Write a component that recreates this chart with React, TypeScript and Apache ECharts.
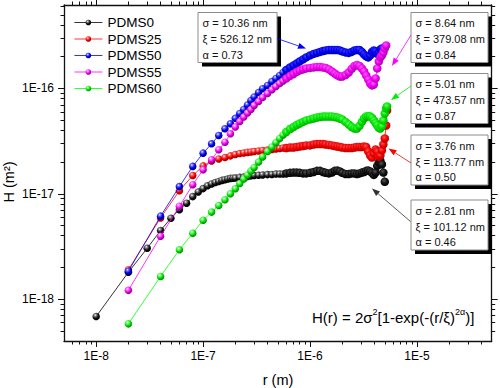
import { useEffect, useRef } from "react";
import * as echarts from "echarts";

// ---- data (r in m, H in units of 1e-17 m²) ----
const H_UNIT = 1e-17;
const seriesNames = ["PDMS0", "PDMS25", "PDMS50", "PDMS55", "PDMS60"];
const seriesColors = ["#000000", "#ff0000", "#0000ff", "#ff00ff", "#00ff00"];

const rStep1 = [1e-8, 2e-8, 3e-8, 4e-8, 5e-8, 6e-8, 7e-8, 8e-8, 9e-8, 1.0e-7, 1.1e-7, 1.2e-7, 1.3e-7, 1.4e-7, 1.5e-7, 1.6e-7, 1.7e-7, 1.8e-7, 1.9e-7];
const rStep2 = [2e-8, 4e-8, 6e-8, 8e-8, 1e-7, 1.2e-7, 1.4e-7, 1.6e-7, 1.8e-7];
const rDense = [
  2.0e-7, 2.2e-7, 2.4e-7, 2.6e-7, 2.8e-7, 3.0e-7, 3.3e-7, 3.6e-7, 4.0e-7, 4.4e-7,
  4.8e-7, 5.2e-7, 5.6e-7, 6.0e-7, 6.5e-7, 7.0e-7, 7.5e-7, 8.0e-7, 8.6e-7, 9.2e-7,
  1.0e-6, 1.08e-6, 1.16e-6, 1.24e-6, 1.32e-6, 1.4e-6, 1.5e-6, 1.6e-6, 1.7e-6, 1.8e-6,
  1.9e-6, 2.0e-6, 2.15e-6, 2.3e-6, 2.45e-6, 2.6e-6, 2.75e-6, 2.9e-6, 3.05e-6, 3.2e-6,
  3.35e-6, 3.5e-6, 3.65e-6, 3.8e-6, 3.95e-6, 4.1e-6, 4.25e-6, 4.4e-6, 4.55e-6, 4.7e-6,
  4.85e-6, 5.0e-6, 5.15e-6, 5.25e-6,
];

const hPdms0Early = [0.0684, 0.18, 0.304, 0.448, 0.586, 0.705, 0.814, 0.94, 1.04, 1.12, 1.19, 1.24, 1.28, 1.31, 1.34, 1.36, 1.38, 1.4, 1.405];
const hPdms0Dense = [
  1.41, 1.43, 1.44, 1.46, 1.48, 1.49, 1.5, 1.51, 1.52, 1.525,
  1.54, 1.54, 1.54, 1.56, 1.58, 1.59, 1.59, 1.58, 1.56, 1.56,
  1.58, 1.61, 1.65, 1.65, 1.61, 1.58, 1.56, 1.59, 1.65, 1.66,
  1.63, 1.58, 1.54, 1.54, 1.56, 1.56, 1.54, 1.56, 1.59, 1.61,
  1.65, 1.66, 1.63, 1.58, 1.51, 1.59, 1.84, 1.98, 2.05, 1.9,
  1.59, 1.3,
];
const hPdms25Early = [0.19, 0.59, 1.07, 1.49, 1.84, 2.05, 2.14, 2.21, 2.29];
const hPdms25Dense = [
  2.36, 2.41, 2.44, 2.47, 2.49, 2.52, 2.55, 2.58, 2.6, 2.63,
  2.66, 2.69, 2.72, 2.72, 2.75, 2.75, 2.78, 2.81, 2.84, 2.88,
  2.88, 2.94, 2.97, 2.97, 2.97, 2.94, 2.91, 2.88, 2.84, 2.81,
  2.78, 2.75, 2.72, 2.72, 2.72, 2.75, 2.78, 2.78, 2.78, 2.81,
  2.78, 2.52, 2.31, 2.21, 2.41, 2.63, 2.52, 2.26, 2.31, 2.58,
  2.94, 3.35, 4.45, 6.18,
];
const hPdms50Early = [0.184, 0.613, 1.17, 1.82, 2.43, 2.98, 3.58, 4.14, 4.62];
const hPdms50Dense = [
  5.2, 5.79, 6.32, 6.97, 7.69, 8.3, 9.16, 9.95, 10.68, 11.65,
  12.45, 13.29, 14.19, 15.0, 15.83, 16.54, 17.28, 18.05, 18.86, 19.7,
  20.6, 21.27, 21.74, 22.22, 22.7, 22.96, 23.2, 23.2, 23.2, 23.2,
  22.96, 22.47, 21.98, 21.74, 22.22, 22.96, 23.2, 23.2, 22.22, 21.04,
  20.14, 19.7, 20.6, 22.22, 22.96, 22.47, 21.27, 21.98, 23.47, 23.99,
];
const hPdms55Early = [0.121, 0.395, 0.76, 1.22, 1.69, 2.1, 2.62, 3.09, 3.71];
const hPdms55Dense = [
  4.31, 4.86, 5.36, 5.85, 6.32, 6.9, 7.53, 8.21, 8.97, 9.73,
  10.45, 11.15, 11.78, 12.45, 13.15, 13.73, 14.35, 14.83, 15.16, 15.49,
  15.66, 15.83, 16.0, 16.0, 15.83, 15.66, 15.16, 14.5, 13.88, 13.29,
  13.0, 13.0, 13.43, 14.19, 15.32, 16.35, 16.72, 16.35, 15.49, 14.5,
  13.29, 12.17, 11.15, 10.68, 10.91, 12.45, 15.49, 18.05, 19.7, 20.6,
  21.98, 23.99, 25.6,
];
const hPdms60Early = [0.0582, 0.164, 0.294, 0.422, 0.56, 0.67, 0.774, 0.877, 1.0];
const hPdms60Dense = [
  1.115, 1.25, 1.38, 1.51, 1.645, 1.777, 2.0, 2.24, 2.52, 2.78,
  3.07, 3.35, 3.62, 3.86, 4.12, 4.31, 4.5, 4.65, 4.81, 4.97,
  5.08, 5.19, 5.3, 5.36, 5.42, 5.42, 5.42, 5.42, 5.36, 5.3,
  5.19, 5.08, 4.81, 4.55, 4.31, 4.17, 4.17, 4.41, 4.81, 5.19,
  5.42, 5.48, 5.42, 5.25, 4.97, 4.7, 4.45, 4.22, 4.17, 4.36,
  4.97, 5.79, 6.46, 6.75,
];

// axis ranges and tick labels
const xRange = [5e-9, 5e-5];
const yRange = [4e-19, 6.2e-16];
const xMajorExp = [-8, -7, -6, -5];
const yMajorExp = [-18, -17, -16];

// fit-parameter annotations
const fitSigma = ["10.36", "8.64", "5.01", "3.76", "2.81"];
const fitXi = ["526.12", "379.08", "473.57", "113.77", "101.12"];
const fitAlpha = ["0.73", "0.84", "0.87", "0.50", "0.46"];

const FONT = "'Liberation Sans', Arial, Helvetica, sans-serif";
const DENSE_FROM = 6e-7; // beyond this r the markers merge into a band

function toPoints(rs: number[], hs: number[]) {
  return hs.map((h, i) => [Math.log10(rs[i]), Math.log10(h * H_UNIT)]);
}

function minorTicks(lo: number, hi: number) {
  const out: number[] = [];
  const a = Math.floor(Math.log10(lo)) - 1;
  const b = Math.ceil(Math.log10(hi)) + 1;
  for (let e = a; e <= b; e++) {
    for (let k = 2; k <= 9; k++) {
      const v = k * Math.pow(10, e);
      if (v > lo * 1.001 && v < hi * 0.999) out.push(Math.log10(v));
    }
  }
  return out;
}

function sphere(color: string, light: string, dark: string) {
  return new echarts.graphic.RadialGradient(0.38, 0.32, 0.68, [
    { offset: 0, color: "#ffffff" },
    { offset: 0.22, color: light },
    { offset: 0.6, color: color },
    { offset: 1, color: dark },
  ]);
}
function bandFill(color: string, light: string, dark: string) {
  return new echarts.graphic.RadialGradient(0.42, 0.36, 0.7, [
    { offset: 0, color: light },
    { offset: 0.5, color: color },
    { offset: 1, color: dark },
  ]);
}

export default function App() {
  const ref = useRef<HTMLDivElement>(null);

  useEffect(() => {
    document.body.style.margin = "0";
    if (!ref.current) return;
    const chart = echarts.init(ref.current, undefined, { renderer: "svg" });

    const xMin = Math.log10(xRange[0]);
    const xMax = Math.log10(xRange[1]);
    const yMin = Math.log10(yRange[0]);
    const yMax = Math.log10(yRange[1]);
    const xMinor = minorTicks(xRange[0], xRange[1]);
    const yMinor = minorTicks(yRange[0], yRange[1]);

    const dataSets = [
      toPoints(rStep1.concat(rDense), hPdms0Early.concat(hPdms0Dense)),
      toPoints(rStep2.concat(rDense), hPdms25Early.concat(hPdms25Dense)),
      toPoints(rStep2.concat(rDense), hPdms50Early.concat(hPdms50Dense)),
      toPoints(rStep2.concat(rDense), hPdms55Early.concat(hPdms55Dense)),
      toPoints(rStep2.concat(rDense), hPdms60Early.concat(hPdms60Dense)),
    ];
    const fills = [
      sphere("#111111", "#8a8a8a", "#000000"),
      sphere("#ee0000", "#ff7070", "#990000"),
      sphere("#0000ee", "#7070ff", "#000088"),
      sphere("#ee00ee", "#ff80ff", "#880088"),
      sphere("#00dd00", "#80ff80", "#008800"),
    ];
    const bands = [
      bandFill("#111111", "#555555", "#000000"),
      bandFill("#f00000", "#ff5555", "#b00000"),
      bandFill("#0000f0", "#4a4aff", "#0000a0"),
      bandFill("#f000f0", "#ff66ff", "#a000a0"),
      bandFill("#00e600", "#66ff66", "#00a000"),
    ];

    const axisLineStyle = { color: "#111", width: 1.3 };
    const tickStyle = { color: "#111", width: 1 };
    const labelStyle = { fontSize: 12, color: "#000", fontFamily: FONT };
    const fmt = (v: number) => "1E" + Math.round(v);

    const xAxisBase = { type: "value" as const, min: xMin, max: xMax, splitLine: { show: false } };
    const yAxisBase = { type: "value" as const, min: yMin, max: yMax, splitLine: { show: false } };

    const xAxes = [
      { ...xAxisBase, gridIndex: 0, position: "bottom", axisLine: { show: true, lineStyle: axisLineStyle },
        axisTick: { show: true, customValues: xMajorExp, length: 6, lineStyle: tickStyle },
        axisLabel: { show: true, customValues: xMajorExp, formatter: fmt, margin: 9, ...labelStyle } },
      { ...xAxisBase, gridIndex: 0, position: "top", axisLine: { show: true, lineStyle: axisLineStyle },
        axisTick: { show: true, customValues: xMajorExp, length: 6, lineStyle: tickStyle },
        axisLabel: { show: false } },
      { ...xAxisBase, gridIndex: 1, position: "bottom", axisLine: { show: false },
        axisTick: { show: true, customValues: xMinor, length: 3.5, lineStyle: tickStyle },
        axisLabel: { show: false } },
      { ...xAxisBase, gridIndex: 1, position: "top", axisLine: { show: false },
        axisTick: { show: true, customValues: xMinor, length: 3.5, lineStyle: tickStyle },
        axisLabel: { show: false } },
    ];
    const yAxes = [
      { ...yAxisBase, gridIndex: 0, position: "left", axisLine: { show: true, lineStyle: axisLineStyle },
        axisTick: { show: true, customValues: yMajorExp, length: 6, lineStyle: tickStyle },
        axisLabel: { show: true, customValues: yMajorExp, formatter: fmt, margin: 10, ...labelStyle } },
      { ...yAxisBase, gridIndex: 0, position: "right", axisLine: { show: true, lineStyle: axisLineStyle },
        axisTick: { show: true, customValues: yMajorExp, length: 6, lineStyle: tickStyle },
        axisLabel: { show: false } },
      { ...yAxisBase, gridIndex: 1, position: "left", axisLine: { show: false },
        axisTick: { show: true, customValues: yMinor, length: 3.5, lineStyle: tickStyle },
        axisLabel: { show: false } },
      { ...yAxisBase, gridIndex: 1, position: "right", axisLine: { show: false },
        axisTick: { show: true, customValues: yMinor, length: 3.5, lineStyle: tickStyle },
        axisLabel: { show: false } },
    ];

    const denseFromLog = Math.log10(DENSE_FROM);
    const series = seriesNames.map((name, i) => ({
      name,
      type: "line",
      xAxisIndex: 0,
      yAxisIndex: 0,
      data: dataSets[i].map((p) =>
        p[0] >= denseFromLog ? { value: p, symbolSize: 8.5, itemStyle: { color: bands[i] } } : p
      ),
      symbol: "circle",
      symbolSize: 7.5,
      showSymbol: true,
      showAllSymbol: true,
      smooth: false,
      lineStyle: { color: seriesColors[i], width: 0.8 },
      itemStyle: { color: fills[i] },
      emphasis: { disabled: true },
      z: 2 + i,
    }));

    // annotation boxes
    const boxPos = [
      { x: 198, y: 12.5, w: 79 },
      { x: 411, y: 12.5, w: 77 },
      { x: 411, y: 73.5, w: 77 },
      { x: 411, y: 135, w: 77 },
      { x: 411, y: 200, w: 77 },
    ];
    const graphics: any[] = [];
    boxPos.forEach((b, i) => {
      const h = 50;
      graphics.push({ type: "rect", shape: { x: b.x + 4, y: b.y + 4, width: b.w, height: h }, style: { fill: "#000" }, z: 100 });
      graphics.push({ type: "rect", shape: { x: b.x, y: b.y, width: b.w, height: h }, style: { fill: "#fff", stroke: "#8c8c8c", lineWidth: 1 }, z: 101 });
      const lines = ["σ = " + fitSigma[i] + " nm", "ξ = " + fitXi[i] + " nm", "α = " + fitAlpha[i]];
      const offs = [10.8, 26.6, 42.4];
      lines.forEach((t, k) => {
        graphics.push({
          type: "text", x: b.x + 4.5, y: b.y + offs[k], z: 102,
          style: { text: t, fontSize: 11, fontFamily: FONT, fill: "#111", align: "left", verticalAlign: "middle", textAlign: "left", textVerticalAlign: "middle" },
        });
      });
    });

    const arrows: { from: number[]; to: number[]; color: string }[] = [
      { from: [277, 38.5], to: [306, 48.5], color: "#0000ff" },
      { from: [411, 35], to: [392, 66], color: "#ff00ff" },
      { from: [411, 86], to: [391, 100], color: "#00ee00" },
      { from: [411, 163], to: [388.5, 148.5], color: "#ff0000" },
      { from: [410.5, 221.5], to: [372, 188.5], color: "#333333" },
    ];
    arrows.forEach((a) => {
      const dx = a.to[0] - a.from[0];
      const dy = a.to[1] - a.from[1];
      const len = Math.hypot(dx, dy);
      const ux = dx / len;
      const uy = dy / len;
      const L = 8;
      const W = 3;
      const bx = a.to[0] - ux * L;
      const by = a.to[1] - uy * L;
      graphics.push({ type: "line", shape: { x1: a.from[0], y1: a.from[1], x2: bx, y2: by }, style: { stroke: a.color, lineWidth: 0.8 }, z: 103 });
      graphics.push({
        type: "polygon", z: 103,
        shape: { points: [[a.to[0], a.to[1]], [bx - uy * W, by + ux * W], [bx + uy * W, by - ux * W]] },
        style: { fill: a.color },
      });
    });

    // formula
    graphics.push({
      type: "text", x: 312, y: 317, z: 104,
      style: {
        text: "{n|H(r) = 2σ}{s|2}{n|[1-exp(-(r/ξ)}{s|2α}{n|)]}",
        align: "left", verticalAlign: "middle", textAlign: "left", textVerticalAlign: "middle",
        rich: {
          n: { fontSize: 15, fontFamily: FONT, fill: "#000", color: "#000", lineHeight: 20 },
          s: { fontSize: 9, fontFamily: FONT, fill: "#000", color: "#000", verticalAlign: "top" },
        },
      },
    });

    // axis titles
    graphics.push({
      type: "text", x: 9, y: 182, rotation: Math.PI / 2, z: 104,
      style: { text: "H (m²)", fontSize: 14.5, fontFamily: FONT, fill: "#000", align: "center", verticalAlign: "middle", textAlign: "center", textVerticalAlign: "middle" },
    });
    graphics.push({
      type: "text", x: 278, y: 380, z: 104,
      style: { text: "r (m)", fontSize: 14.5, fontFamily: FONT, fill: "#000", align: "center", verticalAlign: "middle", textAlign: "center", textVerticalAlign: "middle" },
    });

    chart.setOption({
      animation: false,
      backgroundColor: "#ffffff",
      textStyle: { fontFamily: FONT },
      grid: [
        { left: 64, right: 8.3, top: 5, bottom: 47, containLabel: false },
        { left: 64, right: 8.3, top: 5, bottom: 47, containLabel: false },
      ],
      xAxis: xAxes,
      yAxis: yAxes,
      legend: {
        data: seriesNames,
        orient: "vertical",
        left: 69,
        top: 10.5,
        itemWidth: 28,
        itemHeight: 7,
        itemGap: 2.5,
        lineStyle: { width: 0.8 },
        textStyle: { fontSize: 13.5, color: "#000", fontFamily: FONT, lineHeight: 14 },
        selectedMode: false,
      },
      series,
      graphic: graphics,
    });

    return () => chart.dispose();
  }, []);

  return <div ref={ref} style={{ width: 500, height: 388 }} />;
}
